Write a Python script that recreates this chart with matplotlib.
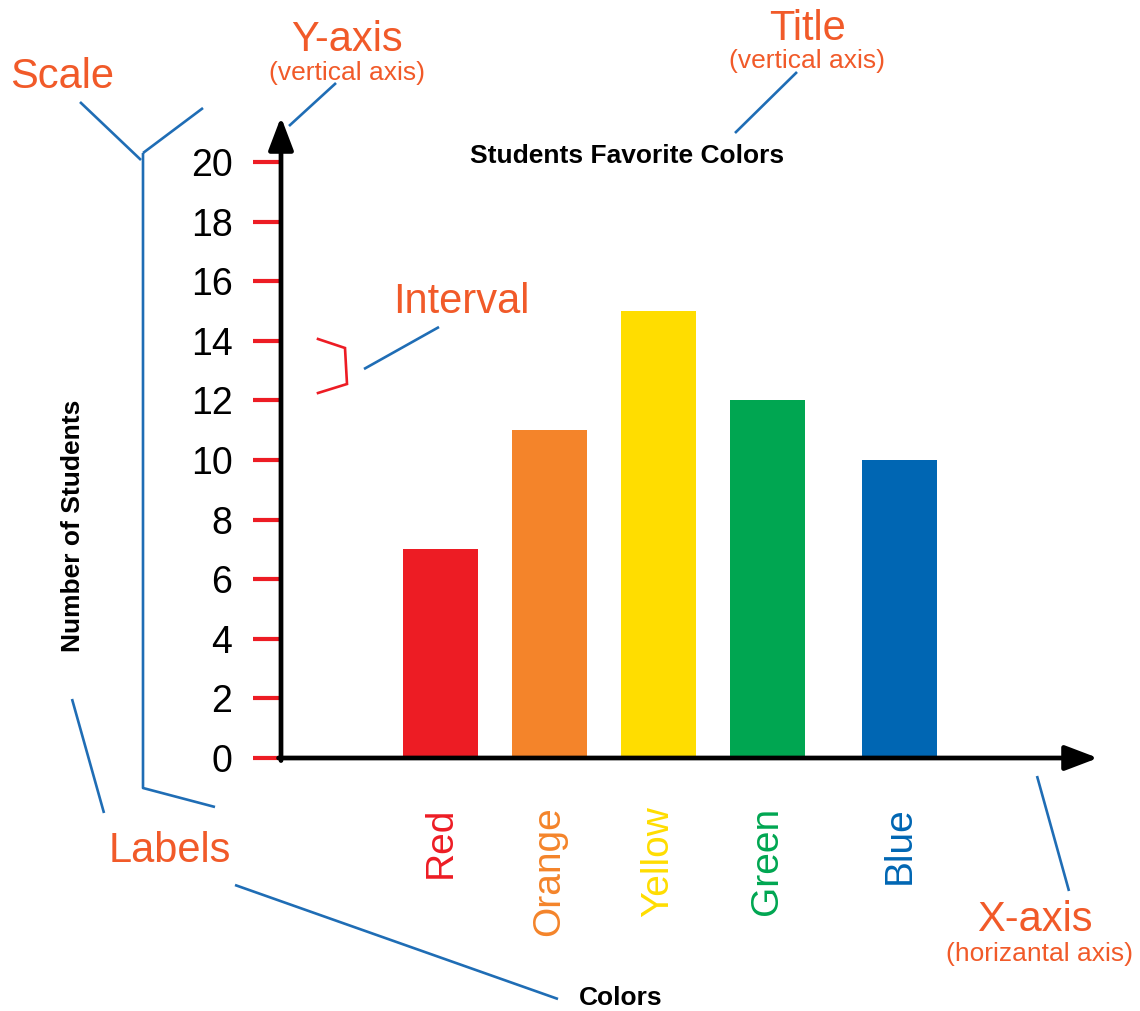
import matplotlib
matplotlib.use("Agg")
import matplotlib.pyplot as plt

# Survey data
colors = ["Red", "Orange", "Yellow", "Green", "Blue"]
students = [7, 11, 15, 12, 10]
bar_colors = ["#ED1C24", "#F4842A", "#FFDD00", "#00A651", "#0066B3"]
y_ticks = [0, 2, 4, 6, 8, 10, 12, 14, 16, 18, 20]

ORANGE = "#F15A29"
LINE_BLUE = "#1F6DB5"
TICK_RED = "#ED1C24"

plt.rcParams["font.family"] = ["Liberation Sans", "DejaVu Sans"]

W, H = 1140, 1011
fig = plt.figure(figsize=(W / 100, H / 100), dpi=100)

# Main axes: pixel box from x=281..1098, y=117..758 (top-down)
left, right, top, bottom = 281, 1098, 117, 758
ax = fig.add_axes([left / W, 1 - bottom / H, (right - left) / W, (bottom - top) / H])
ax.patch.set_alpha(0)

unit_px = 29.8  # pixels per student
positions = [0, 1, 2, 3, 4.21]
ax.bar(positions, students, width=0.688, color=bar_colors, zorder=2)
ax.set_ylim(0, (bottom - top) / unit_px)
ax.set_xlim(-1.463, 6.032)

for s in ax.spines.values():
    s.set_visible(False)

ax.set_yticks(y_ticks)
ax.set_yticklabels([str(v) for v in y_ticks], fontsize=27)
ax.tick_params(axis="y", direction="out", length=20, width=3, color=TICK_RED, pad=15)

ax.set_xticks(positions)
ax.set_xticklabels(colors, rotation=90, fontsize=28)
ax.tick_params(axis="x", length=0, pad=35)
for lbl, c in zip(ax.get_xticklabels(), bar_colors):
    lbl.set_color(c)

# Axis arrows
arrow_kw = dict(arrowstyle="-|>,head_length=1.0,head_width=0.38", lw=3.4, color="black",
                mutation_scale=20, shrinkA=0, shrinkB=0)
ax.annotate("", xy=(0, 1), xytext=(0, -0.004), xycoords="axes fraction",
            textcoords="axes fraction", arrowprops=arrow_kw, zorder=5)
ax.annotate("", xy=(1, 0), xytext=(-0.003, 0), xycoords="axes fraction",
            textcoords="axes fraction", arrowprops=arrow_kw, zorder=5)

ax.set_ylabel("Number of Students", fontsize=19, fontweight="bold")
ax.yaxis.set_label_coords((73 - left) / (right - left), (bottom - 526) / (bottom - top))
ax.yaxis.label.set_va("center")
ax.set_xlabel("Colors", fontsize=19, fontweight="bold")
ax.xaxis.set_label_coords((621 - left) / (right - left), (bottom - 998) / (bottom - top))
ax.xaxis.label.set_va("center")

# Overlay in pixel coordinates for the callouts
ov = fig.add_axes([0, 0, 1, 1])
ov.set_xlim(0, W)
ov.set_ylim(H, 0)
ov.axis("off")
ov.patch.set_alpha(0)

ov.text(627, 156, "Students Favorite Colors", fontsize=19, fontweight="bold",
        ha="center", va="center")

def callout(x, y, s, size):
    ov.text(x, y, s, fontsize=size, color=ORANGE, ha="center", va="baseline")

callout(62, 88, "Scale", 30)
callout(347, 51, "Y-axis", 30)
callout(347, 80, "(vertical axis)", 19)
callout(807, 40, "Title", 30)
callout(807, 68, "(vertical axis)", 19)
callout(461, 313, "Interval", 30)
callout(170, 862, "Labels", 30)
callout(1035, 931, "X-axis", 30)
callout(1039, 961, "(horizantal axis)", 19)

blue_lines = [
    ([80, 141], [102, 160]),
    ([143, 203], [153, 108]),
    ([143, 143, 215], [153, 788, 807]),
    ([72, 104], [699, 813]),
    ([235, 558], [885, 999]),
    ([336, 289], [83, 126]),
    ([797, 735], [72, 133]),
    ([1037, 1069], [776, 891]),
    ([364, 439], [369, 327]),
]
for xs, ys in blue_lines:
    ov.plot(xs, ys, color=LINE_BLUE, lw=1.9, solid_capstyle="butt")

ov.plot([318, 345, 347, 318], [339, 348, 384, 393], color=TICK_RED, lw=1.9,
        solid_joinstyle="miter")

fig.savefig("out.png", dpi=100)
